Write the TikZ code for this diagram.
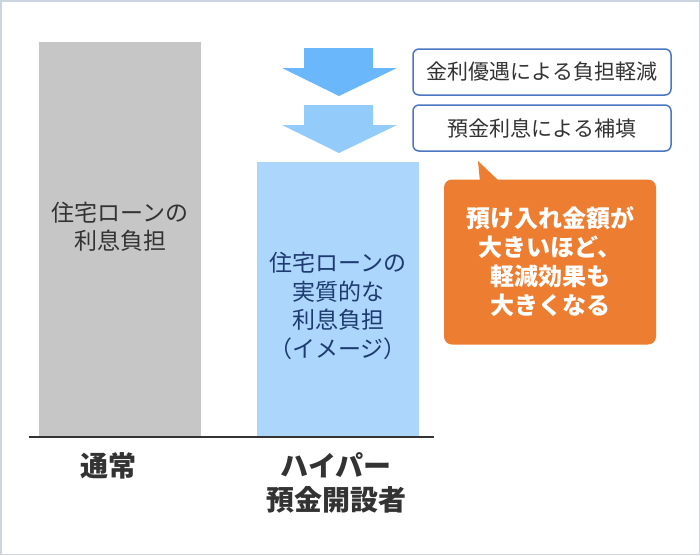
\documentclass[tikz,border=0pt]{standalone}
\usepackage{fontspec}
\newfontfamily\jpfont{Noto Sans CJK JP}
\usetikzlibrary{positioning}
\definecolor{frameGrey}{HTML}{CBD5DF}
\definecolor{barGrey}{HTML}{C6C6C6}
\definecolor{barBlue}{HTML}{ACD6FB}
\definecolor{arrowDark}{HTML}{6AB8FB}
\definecolor{arrowLight}{HTML}{93CCFB}
\definecolor{boxBlue}{HTML}{4A76C4}
\definecolor{calloutOrange}{HTML}{ED7D31}
\definecolor{textDark}{HTML}{333333}
\definecolor{textNavy}{HTML}{1D3B70}

\begin{document}
\begin{tikzpicture}[
  x=1pt, y=-1pt,
  barText/.style={align=center, inner sep=0pt, font=\jpfont\fontsize{23}{28.5}\selectfont},
  axisLabel/.style={align=center, inner sep=0pt, text=textDark, font=\jpfont\bfseries\fontsize{28}{34}\selectfont},
  reasonBox/.style={draw=boxBlue, line width=1.5pt, rounded corners=6pt, fill=white, minimum width=258pt, minimum height=46pt, inner sep=0pt, text=textDark, font=\jpfont\fontsize{21}{24}\selectfont},
  calloutBox/.style={fill=calloutOrange, rounded corners=8pt, minimum width=212pt, minimum height=165pt, inner sep=0pt},
  calloutText/.style={align=center, inner sep=0pt, text=white, font=\jpfont\bfseries\fontsize{24}{29}\selectfont}
]
% frame
\fill[white] (0,0) rectangle (700,555);
\draw[frameGrey, line width=1.5pt] (0.75,0.75) rectangle (699.25,554.25);

% bars
\fill[barGrey] (39,42) rectangle (201,437);
\fill[barBlue] (257,162) rectangle (419,437);
\draw[textDark, line width=2pt] (29,437) -- (434,437);

\node[barText, text=textDark] (normalText) at (120,227) {住宅ローンの\\利息負担};
\node[barText, text=textNavy] (hyperText) at (338,306) {住宅ローンの\\実質的な\\利息負担\\（イメージ）};

\node[axisLabel] (normalLabel) at (108,466) {通常};
\node[axisLabel] (hyperLabel) at (336,483) {ハイパー\\預金開設者};

% down arrows
\fill[arrowDark] (304,48) -- (373,48) -- (373,68) -- (397,68) -- (339,96) -- (282,68) -- (304,68) -- cycle;
\fill[arrowLight] (304,105) -- (373,105) -- (373,125) -- (397,125) -- (339,153) -- (282,125) -- (304,125) -- cycle;

% reasons
\node[reasonBox] (rateBox) at (542,72) {金利優遇による負担軽減};
\node[reasonBox] (interestBox) at (542,128) {預金利息による補填};

% callout
\node[calloutBox] (callout) at (550,262) {};
\fill[calloutOrange] (478,161) -- (500,182) -- (480,182) -- cycle;
\node[calloutText] (calloutMsg) at (550,262) {預け入れ金額が\\大きいほど、\\軽減効果も\\大きくなる};
\end{tikzpicture}
\end{document}
